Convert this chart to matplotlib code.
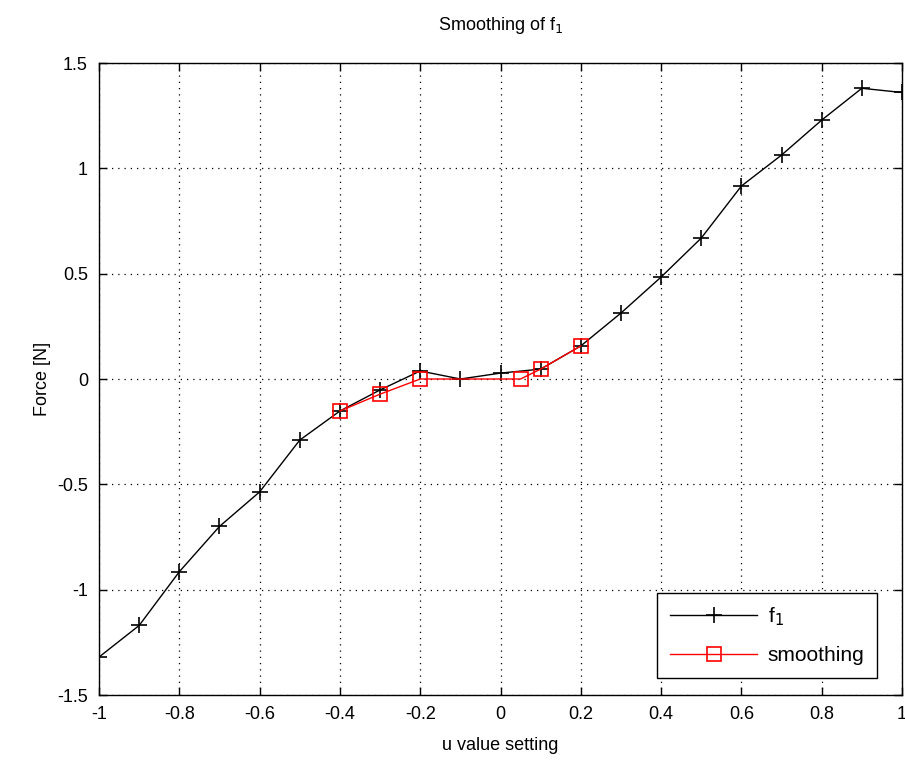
import matplotlib
matplotlib.use("Agg")
import matplotlib.pyplot as plt

# f1 measured curve
u_f1 = [-1.0, -0.9, -0.8, -0.7, -0.6, -0.5, -0.4, -0.3, -0.2, -0.1,
        0.0, 0.1, 0.2, 0.3, 0.4, 0.5, 0.6, 0.7, 0.8, 0.9, 1.0]
f1 = [-1.32, -1.17, -0.915, -0.70, -0.536, -0.29, -0.152, -0.052, 0.038, 0.0,
      0.028, 0.047, 0.157, 0.313, 0.484, 0.669, 0.916, 1.063, 1.229, 1.38, 1.36]

# smoothed section
u_smooth = [-0.4, -0.3, -0.2, 0.05, 0.1, 0.2]
f_smooth = [-0.152, -0.072, 0.0, 0.0, 0.047, 0.157]

xticks = [-1, -0.8, -0.6, -0.4, -0.2, 0, 0.2, 0.4, 0.6, 0.8, 1]
xticklabels = ["-1", "-0.8", "-0.6", "-0.4", "-0.2", "0", "0.2", "0.4", "0.6", "0.8", "1"]
yticks = [-1.5, -1, -0.5, 0, 0.5, 1, 1.5]
yticklabels = ["-1.5", "-1", "-0.5", "0", "0.5", "1", "1.5"]

plt.rcParams["font.family"] = ["Liberation Sans", "DejaVu Sans"]
plt.rcParams["axes.unicode_minus"] = False

fig = plt.figure(figsize=(9.05, 7.67), dpi=100)
ax = fig.add_axes([99 / 905, 72 / 767, 803 / 905, 632 / 767])

ax.plot(u_f1, f1, color="black", linewidth=1.0, marker="+", markersize=12,
        markeredgewidth=1.2, label="f$_1$")
ax.plot(u_smooth, f_smooth, color="red", linewidth=1.0, marker="s", markersize=10,
        markerfacecolor="none", markeredgecolor="red", markeredgewidth=1.2,
        label="smoothing")

ax.set_xlim(-1, 1)
ax.set_ylim(-1.5, 1.5)
ax.set_xticks(xticks)
ax.set_xticklabels(xticklabels)
ax.set_yticks(yticks)
ax.set_yticklabels(yticklabels)
ax.tick_params(direction="in", length=6, width=1, labelsize=13, pad=8,
               top=True, right=True)
ax.grid(True, color="black", linestyle=(0, (1, 4)), linewidth=0.9)
for sp in ax.spines.values():
    sp.set_linewidth(1.0)

ax.set_xlabel("u value setting", fontsize=13, labelpad=10)
ax.set_ylabel("Force [N]", fontsize=13)
ax.set_title("Smoothing of f$_1$", fontsize=13, pad=24)

leg = ax.legend(loc="lower right", fontsize=15, frameon=True, fancybox=False,
                edgecolor="black", framealpha=1, borderpad=0.6,
                handlelength=4.2, labelspacing=0.9, handletextpad=0.5,
                borderaxespad=0, bbox_to_anchor=(0.969, 0.027))
leg.get_frame().set_linewidth(1.0)

fig.savefig("out.png", dpi=100)
